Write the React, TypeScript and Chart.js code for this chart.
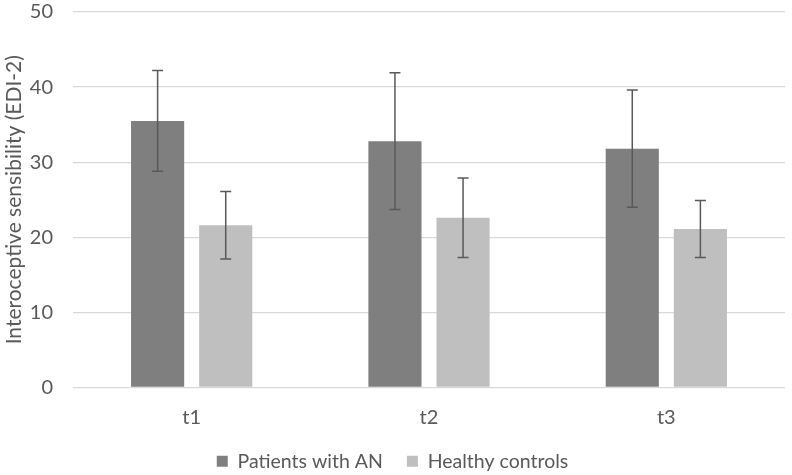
import React, { useEffect, useRef } from 'react';
import Chart from 'chart.js/auto';

const timepoints = ['t1', 't2', 't3'];
const patientsMean = [35.5, 32.8, 31.8];
const patientsSd = [6.7, 9.1, 7.8];
const controlsMean = [21.6, 22.6, 21.1];
const controlsSd = [4.5, 5.3, 3.8];
const yTicks = [0, 10, 20, 30, 40, 50];

const FONT = 'Lato';
const TEXT = '#595959';

// draws the +/- SD whiskers on top of each bar
const errorBars = {
  id: 'errorBars',
  afterDatasetsDraw(chart: any) {
    const ctx = chart.ctx;
    const y = chart.scales.y;
    const sds = [patientsSd, controlsSd];
    ctx.save();
    ctx.strokeStyle = '#595959';
    ctx.lineWidth = 1.5;
    chart.data.datasets.forEach((ds: any, i: number) => {
      const meta = chart.getDatasetMeta(i);
      meta.data.forEach((bar: any, j: number) => {
        const v = ds.data[j];
        const top = y.getPixelForValue(v + sds[i][j]);
        const bot = y.getPixelForValue(v - sds[i][j]);
        const x = bar.x;
        ctx.beginPath();
        ctx.moveTo(x, top);
        ctx.lineTo(x, bot);
        ctx.moveTo(x - 5.5, top);
        ctx.lineTo(x + 5.5, top);
        ctx.moveTo(x - 5.5, bot);
        ctx.lineTo(x + 5.5, bot);
        ctx.stroke();
      });
    });
    ctx.restore();
  },
};

export default function App() {
  const canvasRef = useRef<HTMLCanvasElement>(null);
  const chartRef = useRef<Chart | null>(null);

  useEffect(() => {
    document.body.style.margin = '0';
    if (!canvasRef.current) return;
    if (chartRef.current) chartRef.current.destroy();

    chartRef.current = new Chart(canvasRef.current, {
      type: 'bar',
      data: {
        labels: timepoints,
        datasets: [
          {
            label: 'Patients with AN',
            data: patientsMean,
            backgroundColor: '#7f7f7f',
            categoryPercentage: 0.574,
            barPercentage: 0.78,
          },
          {
            label: 'Healthy controls',
            data: controlsMean,
            backgroundColor: '#bfbfbf',
            categoryPercentage: 0.574,
            barPercentage: 0.78,
          },
        ],
      },
      options: {
        animation: false,
        responsive: true,
        maintainAspectRatio: false,
        layout: { padding: { top: 12, right: 7, left: 0, bottom: -6 } },
        plugins: {
          tooltip: { enabled: false },
          legend: {
            position: 'bottom',
            labels: {
              color: TEXT,
              font: { family: FONT, size: 19.5 },
              boxWidth: 11,
              boxHeight: 11,
              padding: 24,
            },
          },
        },
        scales: {
          x: {
            grid: { display: false, drawTicks: false },
            border: { display: false },
            ticks: { color: TEXT, font: { family: FONT, size: 20 }, padding: 18 },
            afterFit: (s: any) => { s.height = 40; },
          },
          y: {
            min: 0,
            max: 50,
            afterBuildTicks: (s: any) => { s.ticks = yTicks.map(v => ({ value: v })); },
            grid: { color: '#d9d9d9', lineWidth: 1.3, drawTicks: false },
            border: { display: false },
            ticks: { color: TEXT, font: { family: FONT, size: 20 }, padding: 20 },
            title: {
              display: true,
              text: 'Interoceptive sensibility (EDI-2)',
              color: TEXT,
              font: { family: FONT, size: 21 },
              padding: { top: 2, bottom: 0 },
            },
            afterFit: (s: any) => {
              s.width = 73;
              s.paddingTop = 0;
              s.paddingBottom = 0;
            },
          },
        },
      },
      plugins: [errorBars],
    });

    return () => {
      if (chartRef.current) {
        chartRef.current.destroy();
        chartRef.current = null;
      }
    };
  }, []);

  return (
    <div style={{ width: 792, height: 475, position: 'relative', background: '#fff' }}>
      <canvas ref={canvasRef} />
    </div>
  );
}
